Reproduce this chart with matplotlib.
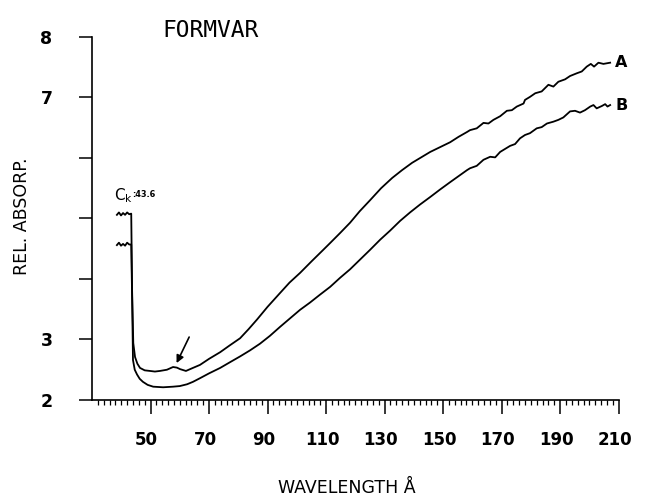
import numpy as np
import matplotlib
matplotlib.use("Agg")
import matplotlib.pyplot as plt
from matplotlib.transforms import ScaledTranslation

# Relative absorption of a Formvar film, curves A and B, versus wavelength (Å)
wave_a = [38.5, 39.2, 39.9, 40.6, 41.3, 42.0, 42.7, 43.4, 43.7, 44.1, 44.7, 45.5,
          46.4, 48.0, 49.8, 51.5, 53.2, 55.6, 57.7, 59.0, 60.1, 62.1, 64.0, 66.9,
          70.0, 73.8, 77.0, 80.6, 83.5, 86.4, 90.0, 94.3, 97.5, 101.1, 105.0, 109.0,
          111.4, 114.8, 118.2, 121.5, 125.0, 128.8, 132.6, 136.0, 139.4, 142.5, 145.6,
          149.0, 152.4, 155.3, 158.2, 159.2, 161.5, 163.8, 165.5, 167.2, 169.5, 171.8,
          173.5, 175.2, 177.5, 178.0, 179.7, 181.5, 183.7, 186.0, 187.7, 189.4, 191.7,
          193.4, 195.7, 197.4, 199.1, 200.5, 201.6, 203.1, 204.8, 207.1]
absorp_a = [5.06, 5.10, 5.05, 5.09, 5.06, 5.10, 5.07, 5.08, 3.80, 2.94, 2.71, 2.60,
            2.53, 2.49, 2.48, 2.47, 2.48, 2.50, 2.545, 2.535, 2.51, 2.48, 2.52, 2.58,
            2.68, 2.79, 2.90, 3.02, 3.17, 3.33, 3.54, 3.77, 3.94, 4.10, 4.29, 4.48,
            4.595, 4.76, 4.93, 5.12, 5.30, 5.50, 5.67, 5.80, 5.92, 6.01, 6.10,
            6.18, 6.26, 6.35, 6.43, 6.46, 6.49, 6.58, 6.57, 6.63, 6.69, 6.78,
            6.79, 6.85, 6.90, 6.96, 7.01, 7.07, 7.10, 7.21, 7.18, 7.26, 7.30,
            7.355, 7.40, 7.43, 7.51, 7.555, 7.51, 7.575, 7.555, 7.575]

wave_b = [38.5, 39.2, 39.9, 40.6, 41.3, 42.0, 42.7, 43.4, 43.7, 44.0, 44.6, 45.4,
          46.3, 47.4, 49.0, 50.9, 54.3, 57.7, 60.0, 62.5, 64.5, 66.9, 70.0, 73.8,
          77.0, 80.6, 84.0, 87.4, 90.8, 94.3, 97.7, 101.1, 104.5, 107.9, 111.4, 114.8,
          118.2, 121.6, 125.0, 128.5, 131.9, 135.3, 138.7, 142.1, 145.6, 149.0, 152.4,
          155.3, 158.2, 159.2, 161.5, 163.8, 166.1, 167.8, 169.5, 172.9, 174.6, 176.3,
          178.0, 179.7, 182.0, 183.7, 185.5, 187.7, 189.4, 191.1, 193.4, 195.1, 196.8,
          198.5, 200.3, 201.4, 202.5, 204.3, 205.4, 206.2, 207.1]
absorp_b = [4.56, 4.60, 4.55, 4.58, 4.55, 4.60, 4.57, 4.57, 3.70, 2.66, 2.50, 2.42,
            2.35, 2.30, 2.25, 2.22, 2.21, 2.22, 2.23, 2.26, 2.30, 2.36, 2.44, 2.53,
            2.62, 2.72, 2.82, 2.93, 3.06, 3.21, 3.35, 3.49, 3.61, 3.74, 3.87, 4.02,
            4.16, 4.32, 4.48, 4.65, 4.80, 4.96, 5.10, 5.23, 5.355, 5.48, 5.60,
            5.70, 5.80, 5.83, 5.87, 5.97, 6.02, 6.01, 6.10, 6.20, 6.23, 6.325,
            6.38, 6.41, 6.49, 6.51, 6.57, 6.60, 6.63, 6.67, 6.77, 6.78, 6.75,
            6.79, 6.85, 6.875, 6.82, 6.86, 6.89, 6.85, 6.875]

edge_label = "43.6"
x_ticks = list(range(50, 211, 20))
y_ticks = [2, 3, 4, 5, 6, 7, 8]
y_tick_labels = ["2", "3", "", "", "", "7", "8"]

plt.rcParams["font.family"] = ["DejaVu Sans"]

fig = plt.figure(figsize=(6.49, 4.97), dpi=100)
ax = fig.add_axes([0.1418, 0.1952, 0.8114, 0.7304])

ax.plot(wave_a, absorp_a, color="black", lw=1.3, solid_joinstyle="round")
ax.plot(wave_b, absorp_b, color="black", lw=1.3, solid_joinstyle="round")

ax.set_xlim(30, 210)
ax.set_ylim(2, 8)
for side in ("top", "right"):
    ax.spines[side].set_visible(False)
for side in ("left", "bottom"):
    ax.spines[side].set_linewidth(1.2)

ax.set_xticks(x_ticks)
ax.set_xticks(np.arange(32, 210, 2), minor=True)
ax.set_xticklabels([str(v) for v in x_ticks], fontweight="bold")
ax.tick_params(axis="x", which="major", direction="out", length=10, width=1.1,
               pad=12, labelsize=12)
ax.tick_params(axis="x", which="minor", direction="out", length=3.8, width=0.9)
# labels sit a little to the left of their ticks
shift = ScaledTranslation(-0.04, 0, fig.dpi_scale_trans)
for lbl in ax.get_xticklabels():
    lbl.set_transform(lbl.get_transform() + shift)

ax.set_yticks(y_ticks)
ax.set_yticklabels(y_tick_labels, fontweight="bold")
ax.tick_params(axis="y", which="major", direction="out", length=9.5, width=1.1,
               pad=19, labelsize=12.5)

ax.set_xlabel("WAVELENGTH Å", fontsize=12.5, va="baseline")
ax.xaxis.set_label_coords(0.483, -0.257)
ax.set_ylabel("REL. ABSORP.", fontsize=12.5)
ax.yaxis.set_label_coords(-0.115, 0.505)

fig.text(0.325, 0.925, "FORMVAR", family="DejaVu Sans Mono", fontsize=16.5,
         ha="center", va="baseline")

# curve labels at the right ends
ax.text(wave_a[-1] + 1.7, absorp_a[-1], "A", fontsize=11.5, fontweight="bold",
        va="center", ha="left", clip_on=False)
ax.text(wave_b[-1] + 1.7, absorp_b[-1], "B", fontsize=11.5, fontweight="bold",
        va="center", ha="left", clip_on=False)

# carbon K edge label
ax.text(37.6, 5.30, r"C$_\mathregular{k}$", fontsize=11, va="baseline", ha="left")
ax.text(43.8, 5.36, ":" + edge_label, fontsize=6.5, fontweight="bold",
        va="baseline", ha="left", fontstretch="condensed")

# arrow pointing to the small bump above the minimum of curve A
ax.annotate("", xy=(58.9, 2.61), xytext=(63.2, 3.04),
            arrowprops=dict(arrowstyle="-|>", color="black", lw=1.2,
                            mutation_scale=11, shrinkA=0, shrinkB=0))

fig.savefig("out.png", dpi=100)
